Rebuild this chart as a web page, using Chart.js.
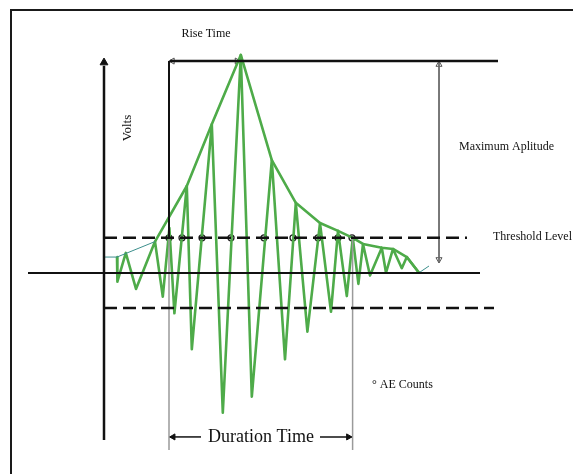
<!DOCTYPE html>
<html>
<head>
<meta charset="utf-8">
<script src="https://cdn.jsdelivr.net/npm/chart.js@4.4.1/dist/chart.umd.min.js"></script>
<style>
  html, body { margin: 0; padding: 0; background: #fff; overflow: hidden; }
  #wrap { position: relative; width: 573px; height: 474px; }
  #frame { position: absolute; left: 10px; top: 9px; width: 700px; height: 700px; border: 2px solid #1a1a1a; }
  #myChart { position: absolute; left: 0; top: 0; }
</style>
</head>
<body>
<div id="wrap">
  <div id="frame"></div>
  <canvas id="myChart" width="573" height="474"></canvas>
</div>
<script>
// time in microseconds, amplitude in % of the peak
var waveTime = [6.5, 6.7, 10.9, 16, 25.5, 29.4, 32.7, 35.2, 41.4, 43.9, 53.9, 59.4, 68.4, 73.9, 83.9, 90.5, 95.9, 101.7, 108, 113.5, 117, 121.4, 124.4, 127.2, 129.5, 133, 138.9, 141, 144.5, 148.9, 151.4, 157.5];
var waveAmp  = [7.3, -4.0, 9.2, -7.3, 14.4, -10.9, 20.6, -18.5, 39.9, -35.0, 68.2, -64.1, 100, -56.7, 51.8, -39.6, 32.2, -26.9, 22.9, -17.8, 19.3, -10.6, 16.1, -5.0, 13.3, -1.2, 11.6, 0.1, 11.0, 2.2, 7.3, 0.1];

var envTime = [25.5, 41.4, 53.9, 68.4, 83.9, 95.9, 108, 117, 124.4, 129.5, 138.9, 144.5, 151.4, 157.5];
var envAmp  = [14.4, 39.9, 68.2, 100, 51.8, 32.2, 22.9, 19.3, 16.1, 13.3, 11.6, 11.0, 7.3, 0.1];

var noiseTime = [0, 6.5, 25.5];
var noiseAmp  = [7.3, 7.3, 14.4];
var tailTime = [157.5, 162.5];
var tailAmp  = [0.1, 3.2];

var threshold = 16.1;
var peakLevel = 97.2;
var riseStart = 32.5;
var durationEnd = 124.3;
var countTimes = [32.5, 39, 49, 63.5, 80, 94.5, 107, 117, 124];

var labelText = ['Rise Time', 'Volts', 'Maximum Aplitude', 'Threshold Level', '\u00B0 AE Counts', 'Duration Time'];
var labelTime = [51, 12, 177.5, 194.5, 134, 78.5];
var labelAmp  = [109.6, 66.5, 57.8, 16.5, -51.4, -75.2];

var GREEN = '#4eab49';

function pts(xs, ys){
    return xs.map(function(x, i){ return {x: x, y: ys[i]}; });
}

function line(data, color, width, dash){
    return {
        data: data, showLine: true, borderColor: color, borderWidth: width,
        borderDash: dash || [], pointRadius: 0, fill: false, tension: 0
    };
}

function arrow(x, y, rot, fillColor, edge, r){
    return {
        data: [{x: x, y: y}], showLine: false, pointStyle: 'triangle', rotation: rot,
        pointRadius: r, backgroundColor: fillColor, borderColor: edge, borderWidth: 1
    };
}

var wave = line(pts(waveTime, waveAmp), GREEN, 2.6);
wave.borderJoinStyle = 'round';
var env = line(pts(envTime, envAmp), GREEN, 2.6);
env.borderJoinStyle = 'round';

var datasets = [
    line(pts([-38, 188], [0, 0]), '#111', 2),
    line(pts([0, 181.5], [threshold, threshold]), '#111', 2.5, [13, 6]),
    line(pts([0, 195], [-threshold, -threshold]), '#111', 2.5, [13, 6]),
    line(pts([33, 197], [peakLevel, peakLevel]), '#111', 2.5),
    line(pts([riseStart, riseStart], [peakLevel, threshold]), '#111', 2),
    line(pts([riseStart, riseStart], [threshold, -81.2]), '#9a9a9a', 1.5),
    line(pts([durationEnd, durationEnd], [threshold, -81.2]), '#9a9a9a', 1.5),
    line(pts([0, 0], [-76.6, 95]), '#111', 2.5),
    line(pts([167.5, 167.5], [peakLevel, 4.6]), '#666', 1),
    line(pts([riseStart, 48.5], [-75.2, -75.2]), '#111', 1.5),
    line(pts([108, durationEnd], [-75.2, -75.2]), '#111', 1.5),
    line(pts(noiseTime, noiseAmp), '#3c8f8c', 1),
    line(pts(tailTime, tailAmp), '#3c8f8c', 1),
    env,
    wave,
    {
        data: countTimes.map(function(t){ return {x: t, y: threshold}; }),
        showLine: false, pointStyle: 'circle', pointRadius: 3,
        backgroundColor: 'rgba(255,255,255,0.85)', borderColor: '#222', borderWidth: 1.3
    },
    arrow(0, 96.5, 0, '#111', '#111', 4.5),
    arrow(34.2, peakLevel, 270, '#fff', '#555', 3.5),
    arrow(66.5, peakLevel, 90, '#fff', '#555', 3.5),
    arrow(167.5, 95.6, 0, '#fff', '#555', 3.5),
    arrow(167.5, 6.2, 180, '#fff', '#555', 3.5),
    arrow(34.6, -75.2, 270, '#111', '#111', 3.5),
    arrow(122.2, -75.2, 90, '#111', '#111', 3.5)
];

var labelPlugin = {
    id: 'labels',
    afterDatasetsDraw: function(chart){
        var c = chart.ctx;
        var xs = chart.scales.x, ys = chart.scales.y;
        var sizes = [12, 13, 12, 12, 12, 18];
        var aligns = ['center', 'center', 'left', 'left', 'left', 'center'];
        c.save();
        c.fillStyle = '#111';
        c.textBaseline = 'middle';
        for(var i = 0; i < labelText.length; i++){
            var px = xs.getPixelForValue(labelTime[i]);
            var py = ys.getPixelForValue(labelAmp[i]);
            c.font = sizes[i] + 'px "Liberation Serif", "Times New Roman", serif';
            c.textAlign = aligns[i];
            if(labelText[i] === 'Volts'){
                c.save();
                c.translate(px, py);
                c.rotate(-Math.PI / 2);
                c.fillText(labelText[i], 0, 0);
                c.restore();
            }else{
                c.fillText(labelText[i], px, py);
            }
        }
        c.restore();
    }
};

var myChart = new Chart(document.getElementById('myChart').getContext('2d'), {
    type: 'scatter',
    data: { datasets: datasets },
    options: {
        responsive: false,
        animation: false,
        layout: { padding: 0, autoPadding: false },
        plugins: { legend: { display: false }, tooltip: { enabled: false } },
        scales: {
            x: { type: 'linear', min: -52, max: 234.5, display: false },
            y: { type: 'linear', min: -92.2, max: 125.2, display: false }
        },
        elements: { line: { borderCapStyle: 'butt' } }
    },
    plugins: [labelPlugin]
});
</script>
</body>
</html>
